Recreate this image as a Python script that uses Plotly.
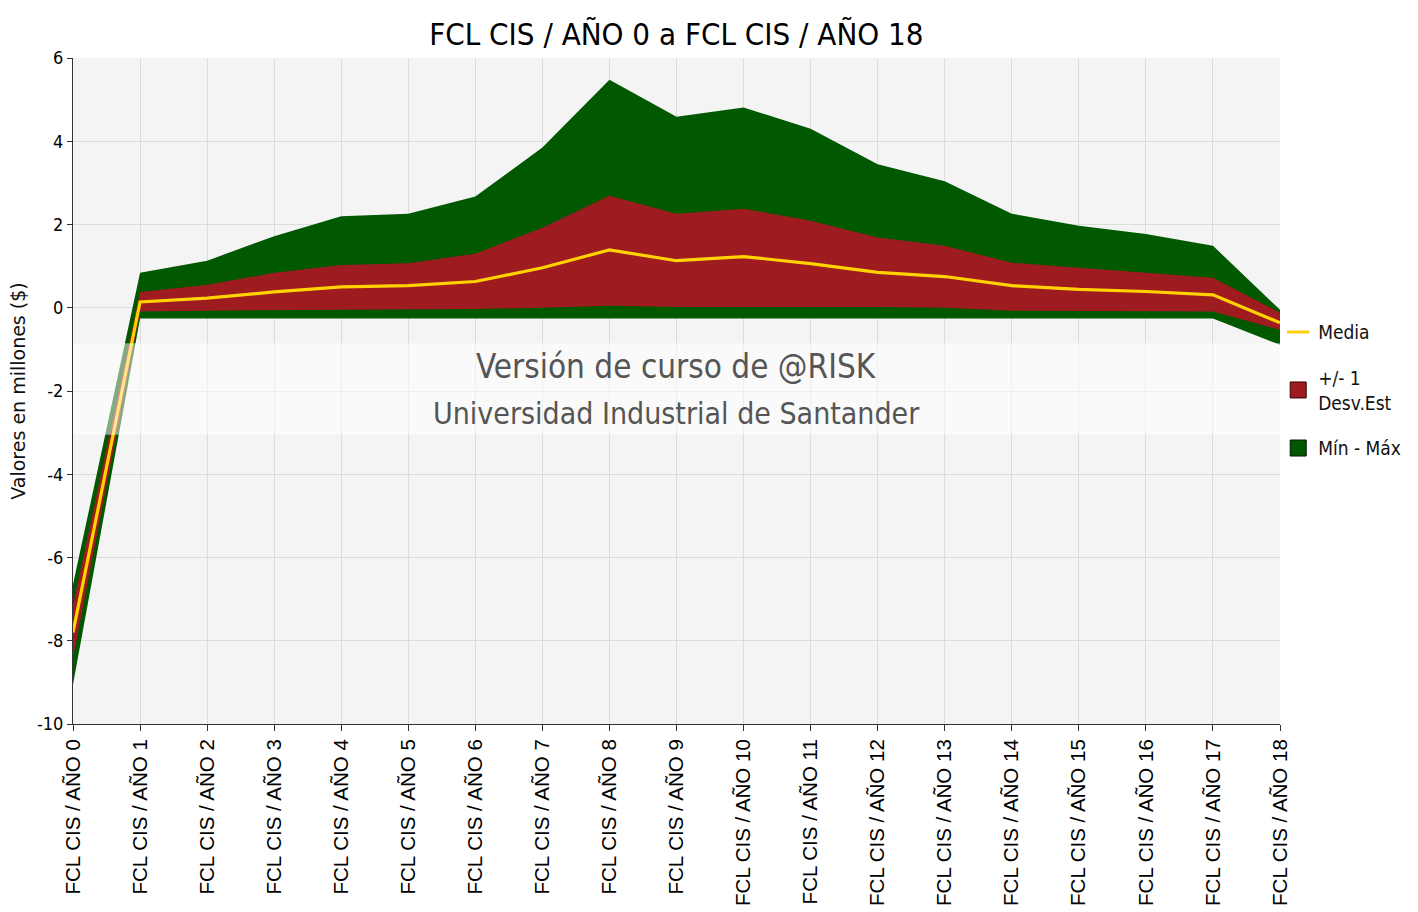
import plotly.graph_objects as go

# Categories (one per year of the cash-flow output)
categories = [
    "FCL CIS / AÑO 0", "FCL CIS / AÑO 1", "FCL CIS / AÑO 2", "FCL CIS / AÑO 3",
    "FCL CIS / AÑO 4", "FCL CIS / AÑO 5", "FCL CIS / AÑO 6", "FCL CIS / AÑO 7",
    "FCL CIS / AÑO 8", "FCL CIS / AÑO 9", "FCL CIS / AÑO 10", "FCL CIS / AÑO 11",
    "FCL CIS / AÑO 12", "FCL CIS / AÑO 13", "FCL CIS / AÑO 14", "FCL CIS / AÑO 15",
    "FCL CIS / AÑO 16", "FCL CIS / AÑO 17", "FCL CIS / AÑO 18",
]

# Values in millions ($)
max_vals = [-6.65, 0.84, 1.13, 1.72, 2.20, 2.26, 2.67, 3.85, 5.48, 4.59,
            4.81, 4.30, 3.45, 3.04, 2.26, 1.97, 1.77, 1.49, -0.05]
plus_sd = [-7.15, 0.38, 0.55, 0.84, 1.03, 1.07, 1.30, 1.92, 2.69, 2.26,
           2.38, 2.09, 1.69, 1.49, 1.08, 0.96, 0.85, 0.72, -0.12]
mean_vals = [-7.80, 0.14, 0.23, 0.38, 0.50, 0.53, 0.63, 0.96, 1.39, 1.13,
             1.23, 1.06, 0.85, 0.75, 0.53, 0.44, 0.39, 0.31, -0.36]
minus_sd = [-8.42, -0.09, -0.07, -0.06, -0.04, -0.04, -0.03, 0.00, 0.05, 0.02,
            0.02, 0.02, 0.02, 0.00, -0.07, -0.08, -0.08, -0.09, -0.53]
min_vals = [-9.05, -0.26, -0.26, -0.26, -0.26, -0.26, -0.26, -0.26, -0.25, -0.26,
            -0.26, -0.26, -0.26, -0.26, -0.26, -0.26, -0.26, -0.26, -0.89]

y_ticks = [6, 4, 2, 0, -2, -4, -6, -8, -10]

GREEN = "#005800"
RED = "#9e1c20"
YELLOW = "#ffd200"

fig = go.Figure()

# Min - Max band
fig.add_trace(go.Scatter(x=categories, y=min_vals, mode="lines",
                         line=dict(width=0, color=GREEN), showlegend=False,
                         hoverinfo="skip"))
fig.add_trace(go.Scatter(x=categories, y=max_vals, mode="lines", fill="tonexty",
                         fillcolor=GREEN, line=dict(width=0, color=GREEN),
                         showlegend=False, hoverinfo="skip"))
# +/- 1 standard deviation band
fig.add_trace(go.Scatter(x=categories, y=minus_sd, mode="lines",
                         line=dict(width=0, color=RED), showlegend=False,
                         hoverinfo="skip"))
fig.add_trace(go.Scatter(x=categories, y=plus_sd, mode="lines", fill="tonexty",
                         fillcolor=RED, line=dict(width=0, color=RED),
                         showlegend=False, hoverinfo="skip"))
# Mean line
fig.add_trace(go.Scatter(x=categories, y=mean_vals, mode="lines",
                         line=dict(width=3.2, color=YELLOW), showlegend=False))

# Legend entries
fig.add_trace(go.Scatter(x=[None], y=[None], mode="markers", name="Media",
                         legendgroup="a",
                         marker=dict(symbol="line-ew", size=18,
                                     line=dict(width=3, color=YELLOW))))
fig.add_trace(go.Scatter(x=[None], y=[None], mode="markers",
                         name="+/- 1<br>Desv.Est", legendgroup="b",
                         marker=dict(symbol="square", size=17, color=RED,
                                     line=dict(width=1, color="#300"))))
fig.add_trace(go.Scatter(x=[None], y=[None], mode="markers", name="Mín - Máx",
                         legendgroup="c",
                         marker=dict(symbol="square", size=17, color=GREEN,
                                     line=dict(width=1, color="#001a00"))))

# Course-version watermark band across the plot
fig.add_shape(type="rect", xref="x domain", yref="y", x0=0, x1=1, y0=-0.85, y1=-3.05,
              fillcolor="rgba(255,255,255,0.5)", line=dict(width=0), layer="above")
fig.add_annotation(text="Versión de curso de @RISK", xref="x domain", yref="y",
                   x=0.5, y=-1.4, showarrow=False,
                   font=dict(family="DejaVu Sans Condensed", size=33, color="#555555"))
fig.add_annotation(text="Universidad Industrial de Santander", xref="x domain", yref="y",
                   x=0.5, y=-2.55, showarrow=False,
                   font=dict(family="DejaVu Sans Condensed", size=30, color="#555555"))

fig.update_layout(
    width=1418, height=912,
    margin=dict(l=73, r=138, t=58, b=188),
    paper_bgcolor="white",
    plot_bgcolor="#f4f4f4",
    title=dict(text="FCL CIS / AÑO 0 a FCL CIS / AÑO 18", x=0.477, xanchor="center",
               y=0.963, yanchor="middle",
               font=dict(family="DejaVu Sans Condensed", size=31, color="#000000")),
    legend=dict(x=0.9985, xanchor="left", y=0.617, yanchor="top",
                font=dict(family="DejaVu Sans Condensed", size=19, color="#111111"),
                tracegroupgap=18, bgcolor="rgba(0,0,0,0)", traceorder="grouped"),
    showlegend=True,
)

fig.update_xaxes(
    type="category", range=[0, 18], tickangle=-90, automargin=False,
    tickfont=dict(family="Liberation Sans", size=20.5, color="#000000"),
    showgrid=True, gridcolor="#dcdcdc", gridwidth=1,
    showline=True, linecolor="#333333", linewidth=1,
    ticks="outside", ticklen=6, tickcolor="#333333",
)
fig.update_yaxes(
    range=[-10, 6], tickvals=y_ticks, ticktext=[str(v) for v in y_ticks],
    automargin=False,
    tickfont=dict(family="DejaVu Sans Condensed", size=18, color="#000000"),
    showgrid=True, gridcolor="#dcdcdc", gridwidth=1, zeroline=False,
    showline=True, linecolor="#333333", linewidth=1,
    ticks="outside", ticklen=5, tickcolor="#333333",
    title=dict(text="Valores en millones ($)", standoff=6,
               font=dict(family="DejaVu Sans", size=19, color="#111111")),
)

fig.write_html("out.html")
